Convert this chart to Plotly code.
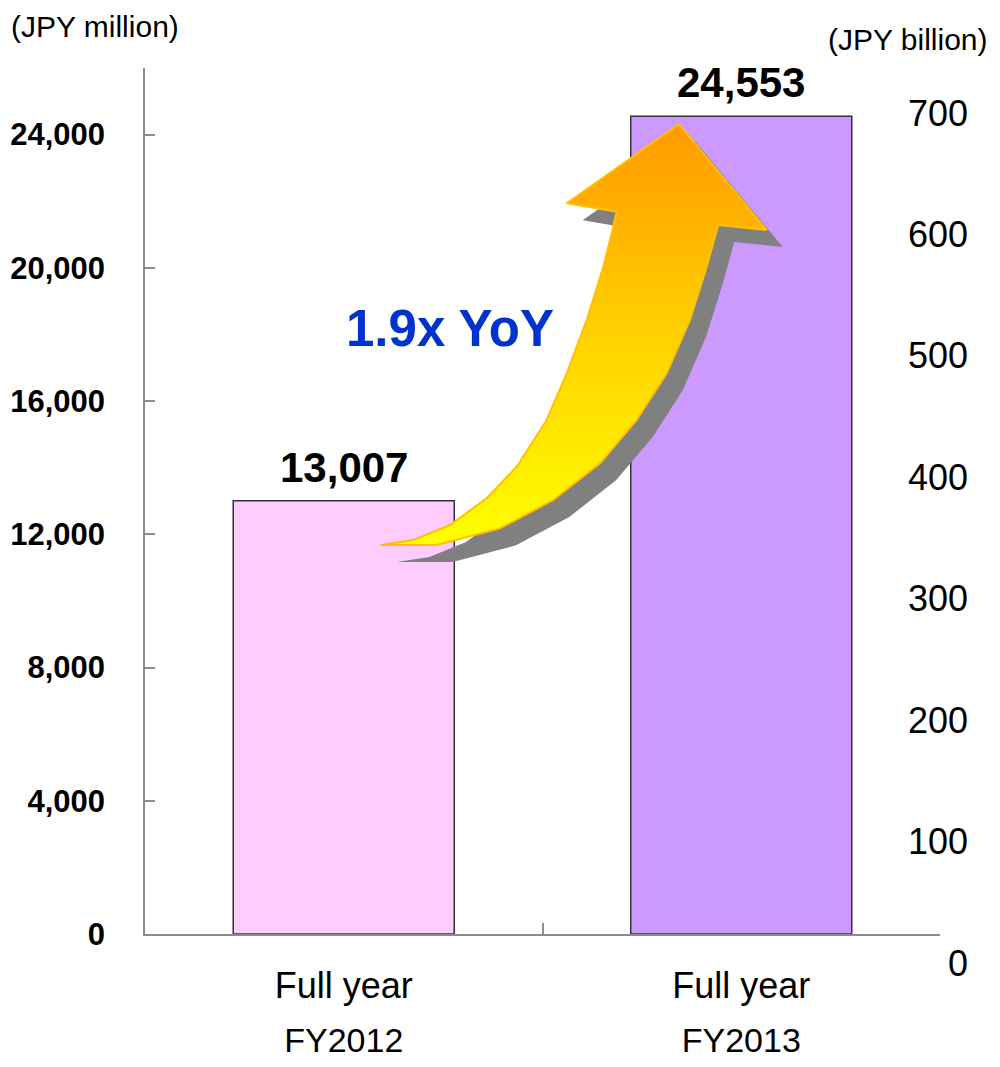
import plotly.graph_objects as go

# page body adds an 8px margin; size the figure so the page is exactly 1000x1067
PAGE_W, PAGE_H, BODY = 1000, 1067, 8
W, H = PAGE_W - 2 * BODY, PAGE_H - 2 * BODY

# ---------------- data ----------------
years = ["FY2012", "FY2013"]
period_label = "Full year"
values_million = [13007, 24553]
bar_colors = ["#FFCCFF", "#CC99FF"]
left_ticks = [0, 4000, 8000, 12000, 16000, 20000, 24000]
right_ticks = [0, 100, 200, 300, 400, 500, 600, 700]
growth_label = "1.9x YoY"
left_unit = "(JPY million)"
right_unit = "(JPY billion)"

# decorative arrow outline (page pixel coordinates)
arrow_px = [
    (380.7, 545), (436.7, 545), (500, 528.3), (553.3, 500), (600, 463.3),
    (636.7, 420), (666.7, 373.3), (690, 320), (706.7, 266.7), (718.3, 225),
    (766.7, 230), (679, 124), (566.7, 203.3), (616.7, 211.7), (611.7, 233.3),
    (603.3, 266.7), (586.7, 320), (566.7, 373.3), (546.7, 420), (516.7, 466.7),
    (486.7, 498.3), (450, 525), (413.3, 540), (380.7, 545),
]
shadow_offset = (16, 17)


def fx(p):
    """page pixel x -> paper fraction"""
    return (p - BODY) / W


def fy(p):
    """page pixel y -> paper fraction"""
    return (H - (p - BODY)) / H


FONT = "Arial, Liberation Sans, sans-serif"

fig = go.Figure()

fig.add_trace(go.Bar(
    x=years, y=values_million, xaxis="x", yaxis="y",
    marker=dict(color=bar_colors, line=dict(color="#333333", width=1.5)),
    width=0.556,
    hoverinfo="skip",
))

# invisible helper trace to carry the right-hand axis and year labels
fig.add_trace(go.Scatter(
    x=years, y=[0, 0], xaxis="x2", yaxis="y2", mode="markers",
    marker=dict(opacity=0), hoverinfo="skip", showlegend=False,
))

ax = [p[0] for p in arrow_px]
ay = [p[1] for p in arrow_px]
fig.add_trace(go.Scatter(
    x=[v + shadow_offset[0] for v in ax], y=[v + shadow_offset[1] for v in ay],
    xaxis="x3", yaxis="y3", mode="lines", fill="toself",
    fillcolor="#808080", line=dict(width=0, color="#808080"),
    hoverinfo="skip", showlegend=False,
))
fig.add_trace(go.Scatter(
    x=ax, y=ay, xaxis="x3", yaxis="y3", mode="lines", fill="toself",
    fillgradient=dict(type="vertical",
                      colorscale=[[0, "#FFFF00"], [0.45, "#FFD600"], [1, "#FF9900"]],
                      start=545, stop=124),
    line=dict(width=2, color="#FFC000"),
    hoverinfo="skip", showlegend=False,
))

axis_grey = "#8C8C8C"

value_annotations = [
    dict(x=yr, y=v, xref="x", yref="y", text=f"{v:,}", showarrow=False,
         xanchor="center", yanchor="bottom", yshift=8,
         font=dict(size=42, family=FONT, color="black", weight="bold"))
    for yr, v in zip(years, values_million)
]

fig.update_layout(
    template="none",
    width=W, height=H,
    margin=dict(l=0, r=0, t=0, b=0, autoexpand=False),
    paper_bgcolor="white", plot_bgcolor="rgba(0,0,0,0)",
    showlegend=False,
    font=dict(family=FONT, color="black"),
    xaxis=dict(
        domain=[fx(145), fx(940)], anchor="y", type="category",
        range=[-0.5, 1.5], automargin=False,
        showline=True, linecolor=axis_grey, linewidth=1.5,
        ticks="inside", tickson="boundaries", ticklen=11, tickcolor=axis_grey, tickwidth=1.5,
        labelalias={y: period_label for y in years},
        tickfont=dict(size=36, family=FONT, color="black"),
        ticklabelstandoff=19,
        showgrid=False, zeroline=False,
    ),
    yaxis=dict(
        domain=[fy(934), fy(68)], anchor="x", range=[0, 26000], automargin=False,
        tickvals=left_ticks, tickformat=",",
        ticks="inside", ticklen=10, tickcolor=axis_grey, tickwidth=1.5,
        showline=True, linecolor=axis_grey, linewidth=1.5,
        tickfont=dict(size=31, family=FONT, color="black", weight="bold"),
        ticklabelstandoff=32,
        showgrid=False, zeroline=False,
    ),
    xaxis2=dict(
        domain=[fx(145), fx(940)], anchor="y2", type="category",
        range=[-0.5, 1.5], automargin=False,
        showline=False, ticks="", showgrid=False, zeroline=False,
        tickfont=dict(size=34, family=FONT, color="black"),
        ticklabelstandoff=54,
    ),
    yaxis2=dict(
        domain=[fy(963), fy(52.3)], range=[0, 750], anchor="free", position=fx(968),
        side="left", tickvals=right_ticks, automargin=False,
        showline=False, ticks="", showgrid=False, zeroline=False,
        tickfont=dict(size=36, family=FONT, color="black"),
        ticklabelstandoff=0,
    ),
    xaxis3=dict(domain=[0, 1], range=[BODY, BODY + W], anchor="y3", visible=False),
    yaxis3=dict(domain=[0, 1], range=[BODY + H, BODY], anchor="x3", visible=False),
    annotations=value_annotations + [
        dict(text=left_unit, xref="paper", yref="paper", x=fx(9), y=fy(27),
             xanchor="left", yanchor="middle", showarrow=False,
             font=dict(size=30, family=FONT, color="black")),
        dict(text=right_unit, xref="paper", yref="paper", x=fx(990), y=fy(40),
             xanchor="right", yanchor="middle", showarrow=False,
             font=dict(size=30, family=FONT, color="black")),
        dict(text=growth_label, xref="paper", yref="paper", x=fx(450), y=fy(328),
             xanchor="center", yanchor="middle", showarrow=False,
             font=dict(size=51, family=FONT, color="#0033CC", weight="bold")),
    ],
)

fig.write_html("out.html")
